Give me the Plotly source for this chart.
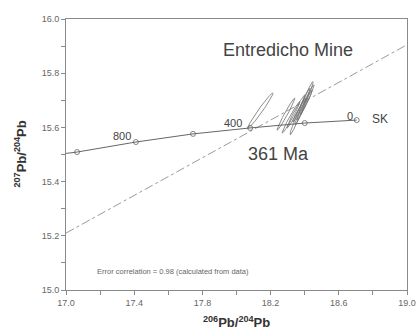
import numpy as np
import plotly.graph_objects as go

# Stacey-Kramers growth curve (age in Ma, 206Pb/204Pb, 207Pb/204Pb)
sk_age = [1050, 1000, 800, 600, 400, 200, 0]
sk_x = [17.00, 17.065, 17.41, 17.745, 18.08, 18.40, 18.705]
sk_y = [15.504, 15.509, 15.546, 15.576, 15.598, 15.616, 15.627]
sk_marked = [False, True, True, True, True, True, True]

# Regression (dash-dot) line end points
reg_x = [17.0, 19.0]
reg_y = [15.21, 15.905]

# Error ellipses: centre x, centre y, half-range x, half-range y
ell_cx = [18.140, 18.290, 18.320, 18.349, 18.372, 18.396, 18.405, 18.370, 18.408]
ell_cy = [15.662, 15.649, 15.637, 15.659, 15.659, 15.689, 15.692, 15.665, 15.692]
ell_sx = [0.074, 0.052, 0.052, 0.053, 0.058, 0.053, 0.050, 0.040, 0.036]
ell_sy = [0.065, 0.059, 0.058, 0.061, 0.086, 0.080, 0.065, 0.045, 0.046]
rho = 0.98

x_ticks = [17.0, 17.4, 17.8, 18.2, 18.6, 19.0]
y_ticks = [15.0, 15.2, 15.4, 15.6, 15.8, 16.0]

fig = go.Figure()

fig.add_trace(go.Scatter(x=reg_x, y=reg_y, mode="lines",
                         line=dict(color="#9a9a9a", width=1, dash="dashdot"),
                         hoverinfo="skip", showlegend=False))

t = np.linspace(0, 2 * np.pi, 121)
for cx, cy, sx, sy in zip(ell_cx, ell_cy, ell_sx, ell_sy):
    ex = cx + sx * np.cos(t)
    ey = cy + sy * (rho * np.cos(t) + np.sqrt(1 - rho ** 2) * np.sin(t))
    fig.add_trace(go.Scatter(x=ex, y=ey, mode="lines",
                             line=dict(color="#707070", width=0.8),
                             hoverinfo="skip", showlegend=False))

fig.add_trace(go.Scatter(x=sk_x, y=sk_y, mode="lines",
                         line=dict(color="#666666", width=1),
                         hoverinfo="skip", showlegend=False))
mx = [x for x, m in zip(sk_x, sk_marked) if m]
my = [y for y, m in zip(sk_y, sk_marked) if m]
fig.add_trace(go.Scatter(x=mx, y=my, mode="markers",
                         marker=dict(symbol="circle-open", size=5,
                                     color="#666666", line=dict(width=0.8)),
                         hoverinfo="skip", showlegend=False))

font_main = "Liberation Sans, Arial, sans-serif"
anns = [
    dict(x=18.3, y=15.886, text="Entredicho Mine", size=18),
    dict(x=18.245, y=15.503, text="361 Ma", size=18),
    dict(x=17.33, y=15.567, text="800", size=11),
    dict(x=17.98, y=15.616, text="400", size=11),
    dict(x=18.665, y=15.642, text="0", size=11),
    dict(x=18.84, y=15.632, text="SK", size=12),
]
for a in anns:
    fig.add_annotation(x=a["x"], y=a["y"], text=a["text"], showarrow=False,
                       xref="x", yref="y",
                       font=dict(size=a["size"], color="#444444", family=font_main))

fig.add_annotation(x=17.17, y=15.07, text="Error correlation = 0.98 (calculated from data)",
                   showarrow=False, xanchor="left", xref="x", yref="y",
                   font=dict(size=7.5, color="#666666", family=font_main))

fig.add_annotation(x=0.5, y=0, xref="paper", yref="paper", yanchor="top", yshift=-22,
                   text="<b><sup>206</sup>Pb/<sup>204</sup>Pb</b>", showarrow=False,
                   font=dict(size=13, color="#333333", family=font_main))
fig.add_annotation(x=0, y=0.5, xref="paper", yref="paper", xanchor="right", xshift=-36,
                   text="<b><sup>207</sup>Pb/<sup>204</sup>Pb</b>", showarrow=False, textangle=-90,
                   font=dict(size=13, color="#333333", family=font_main))

axis_common = dict(showgrid=False, zeroline=False, showline=True, linecolor="#8a8a8a",
                   linewidth=1, mirror=True, ticks="outside", ticklen=4,
                   tickcolor="#8a8a8a", tickwidth=1, tickformat=".1f", automargin=False,
                   tickfont=dict(size=9, color="#666666", family=font_main))

fig.update_layout(
    width=419, height=330,
    margin=dict(l=66, r=12, t=19, b=40, autoexpand=False),
    paper_bgcolor="white", plot_bgcolor="white",
    xaxis=dict(range=[17.0, 19.0], tickvals=x_ticks,
               minor=dict(dtick=0.2, ticks="outside", ticklen=4, tickcolor="#8a8a8a"),
               **axis_common),
    yaxis=dict(range=[15.0, 16.0], tickvals=y_ticks,
               minor=dict(dtick=0.1, ticks="outside", ticklen=4, tickcolor="#8a8a8a"),
               **axis_common),
)

fig.write_html("out.html", config={"displayModeBar": False},
               post_script="document.body.style.margin='0';document.body.style.overflow='hidden';")
